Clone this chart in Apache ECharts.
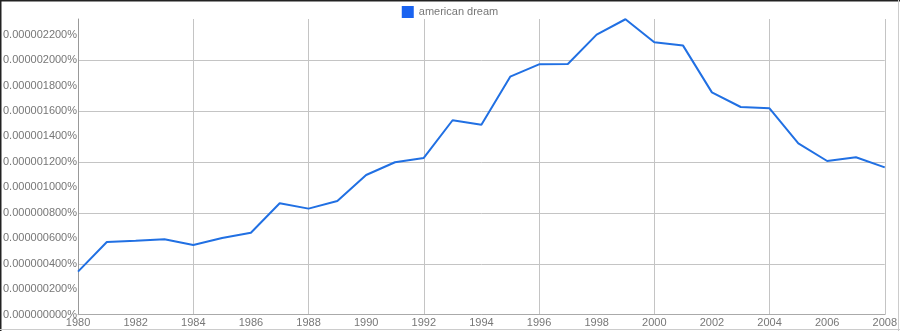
<!DOCTYPE html>
<html>
<head>
<meta charset="utf-8">
<script src="https://cdn.jsdelivr.net/npm/echarts@6/dist/echarts.min.js"></script>
<style>
html,body{margin:0;padding:0;background:#fff;}
#c{width:900px;height:331px;}
</style>
</head>
<body>
<div id="c"></div>
<script>
// values in units of 1e-9 percent
var years = [1980,1981,1982,1983,1984,1985,1986,1987,1988,1989,1990,1991,1992,1993,1994,1995,1996,1997,1998,1999,2000,2001,2002,2003,2004,2005,2006,2007,2008];
var americanDream = [338,571,581,592,547,602,644,875,833,893,1097,1197,1231,1527,1492,1869,1966,1969,2199,2320,2139,2113,1746,1631,1621,1346,1207,1236,1157];
var seriesName = 'american dream';

var data = years.map(function(y,i){return [y, americanDream[i]];});
function fmtY(v){ return '0.' + String(Math.round(v)).padStart(9,'0') + '%'; }

var chart = echarts.init(document.getElementById('c'));
var txt = '#777';
var grid = '#c4c4c4';
chart.setOption({
  animation:false,
  textStyle:{fontFamily:'Liberation Sans, Arial, sans-serif'},
  legend:{
    top:1, left:'center', icon:'rect', itemWidth:12, itemHeight:12, itemGap:10,
    textStyle:{color:txt, fontSize:11, fontFamily:'Liberation Sans, Arial, sans-serif'},
    data:[seriesName]
  },
  grid:{left:78, right:13.5, top:19, bottom:16.3, containLabel:false},
  xAxis:[
    {type:'value', min:1980, max:2008, interval:2, position:'bottom',
     axisLine:{show:true, lineStyle:{color:'#aaa'}}, axisTick:{show:false},
     splitLine:{show:false},
     axisLabel:{color:txt, fontSize:11, margin:3, formatter:function(v){return String(v);}}},
    {type:'value', min:1980, max:2008, interval:4, position:'bottom',
     axisLine:{show:false}, axisTick:{show:false}, axisLabel:{show:false},
     splitLine:{show:true, lineStyle:{color:grid, width:1}}}
  ],
  yAxis:[
    {type:'value', min:0, max:2322, interval:200, position:'left',
     axisLine:{show:true, lineStyle:{color:'#999'}}, axisTick:{show:false},
     splitLine:{show:false},
     axisLabel:{color:txt, fontSize:11, margin:1, showMaxLabel:false, formatter:fmtY}},
    {type:'value', min:0, max:2322, interval:400, position:'left',
     axisLine:{show:false}, axisTick:{show:false}, axisLabel:{show:false},
     splitLine:{show:true, showMaxLine:false, lineStyle:{color:grid, width:1}}}
  ],
  series:[{
    name:seriesName, type:'line', data:data, xAxisIndex:0, yAxisIndex:0,
    showSymbol:false, symbol:'none', smooth:false,
    lineStyle:{color:'#2170e3', width:2}, itemStyle:{color:'#1a63f0'}
  }],
  graphic:[
    {type:'line', shape:{x1:0,y1:0.5,x2:900,y2:0.5}, style:{stroke:'#222', lineWidth:2}},
    {type:'line', shape:{x1:0.5,y1:0,x2:0.5,y2:331}, style:{stroke:'#222', lineWidth:2}},
    {type:'line', shape:{x1:898.5,y1:0,x2:898.5,y2:331}, style:{stroke:'#ccc', lineWidth:1}},
    {type:'line', shape:{x1:0,y1:329.5,x2:900,y2:329.5}, style:{stroke:'#ccc', lineWidth:1}}
  ]
});
</script>
</body>
</html>
